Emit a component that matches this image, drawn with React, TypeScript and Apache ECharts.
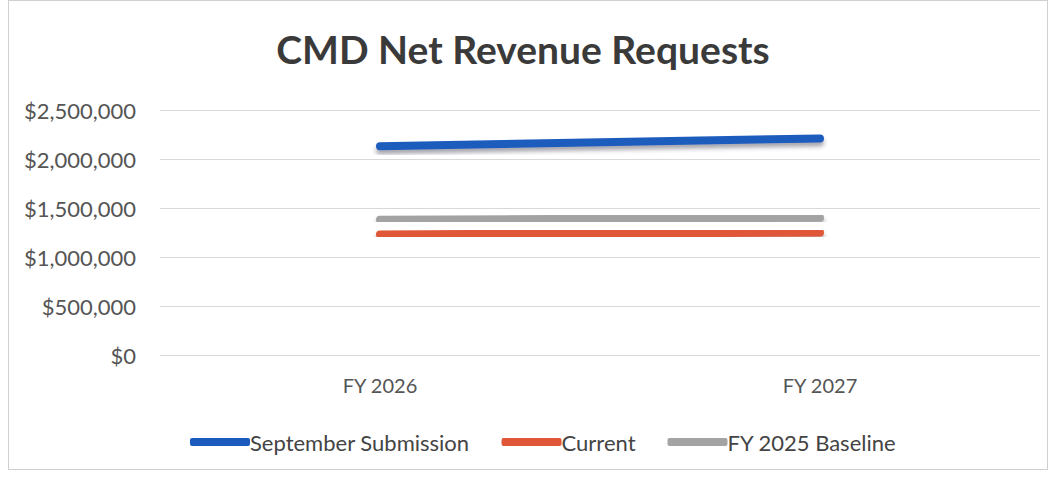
import React, { useEffect, useRef } from "react";
import * as echarts from "echarts";

const categories = ["FY 2026", "FY 2027"];
const septemberSubmission = [2130000, 2210000];
const current = [1230000, 1250000];
const baseline2025 = [1380000, 1400000];
const yTicks = { min: 0, max: 2500000, interval: 500000 };

const fmt = (v: number) => "$" + v.toLocaleString("en-US");

export default function App() {
  const ref = useRef<HTMLDivElement>(null);
  useEffect(() => {
    const chart = echarts.init(ref.current!, undefined, { renderer: "svg" });
    const font = "Lato, 'Open Sans', sans-serif";
    const lineSeries = (name: string, data: number[], color: string) => ({
      name,
      type: "line",
      data,
      symbol: "none",
      lineStyle: {
        width: 8,
        color,
        cap: "round",
        shadowColor: "rgba(60,60,80,0.45)",
        shadowBlur: 4,
        shadowOffsetY: 4,
      },
      itemStyle: { color },
    });
    chart.setOption({
      animation: false,
      backgroundColor: "#ffffff",
      title: {
        text: "CMD Net Revenue Requests",
        left: 518,
        top: 24,
        textAlign: "center",
        textStyle: { fontFamily: font, fontWeight: "bold", fontSize: 39, color: "#3a3a3a" },
      },
      grid: { left: 160, right: 17, top: 110, bottom: 123 },
      xAxis: {
        type: "category",
        data: categories,
        boundaryGap: true,
        axisLine: { show: false },
        axisTick: { show: false },
        axisLabel: { margin: 20, fontFamily: font, fontSize: 20, color: "#555" },
      },
      yAxis: {
        type: "value",
        min: yTicks.min,
        max: yTicks.max,
        interval: yTicks.interval,
        axisLabel: { formatter: fmt, margin: 24, fontFamily: font, fontSize: 22, color: "#555" },
        splitLine: { lineStyle: { color: "#d9d9d9", width: 1 } },
        axisLine: { show: false },
        axisTick: { show: false },
      },
      legend: {
        top: 426,
        left: 185,
        icon: "roundRect",
        itemWidth: 60,
        itemHeight: 8,
        itemGap: 32,
        textStyle: { fontFamily: font, fontSize: 22, color: "#444", padding: [0, 0, 0, -5] },
        data: ["September Submission", "Current", "FY 2025 Baseline"],
      },
      series: [
        lineSeries("FY 2025 Baseline", baseline2025, "#a3a3a3"),
        lineSeries("Current", current, "#e05638"),
        lineSeries("September Submission", septemberSubmission, "#1c5bbd"),
      ],
    });
    return () => chart.dispose();
  }, []);
  return (
    <div
      style={{
        position: "fixed",
        left: 0,
        top: 0,
        width: 1057,
        height: 478,
        background: "#fff",
      }}
    >
      <div
        ref={ref}
        style={{
          position: "absolute",
          left: 0,
          top: 0,
          width: 1057,
          height: 478,
        }}
      />
      <div
        style={{
          position: "absolute",
          left: 8,
          top: 0,
          width: 1040,
          height: 470,
          border: "1px solid #d0d0d0",
          boxSizing: "border-box",
          pointerEvents: "none",
        }}
      />
    </div>
  );
}
